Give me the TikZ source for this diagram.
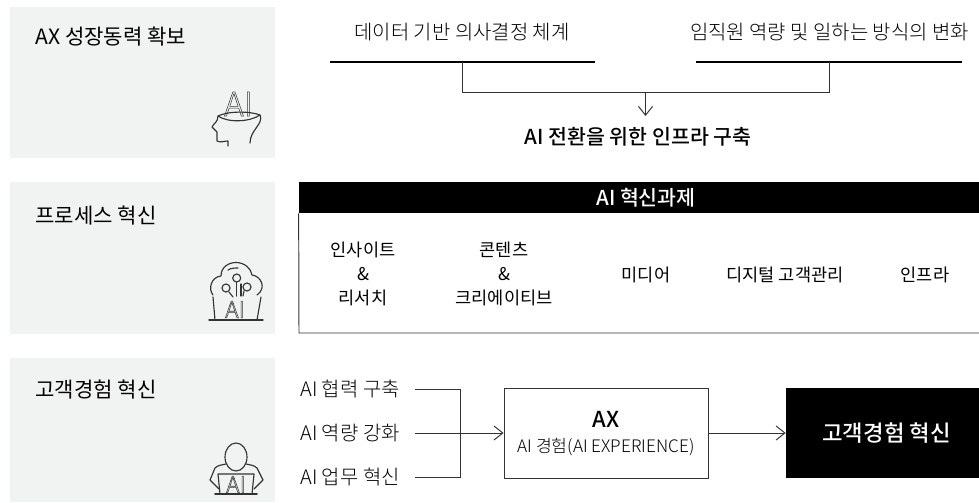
\documentclass[tikz,border=0pt]{standalone}
\usepackage{fontspec}
\setmainfont[BoldFont={Noto Sans CJK KR Medium}]{Noto Sans CJK KR Light}
\newfontfamily\regfont{Noto Sans CJK KR}
\usetikzlibrary{arrows.meta}
\definecolor{panelgray}{HTML}{F1F3F3}
\definecolor{inkgray}{HTML}{333333}
\newcommand{\hollow}[1]{\special{pdf:code q 1 Tr 0.3 w}#1\special{pdf:code Q}}
\tikzset{
  label/.style={anchor=west, inner sep=0pt, text=black, font=\regfont\fontsize{12}{14}\selectfont},
  item/.style={inner sep=0pt, align=center, text=black, font=\fontsize{11.35}{14}\selectfont},
  taskitem/.style={inner sep=0pt, align=center, text=black, font=\regfont\fontsize{10}{13.7}\selectfont},
  joinline/.style={draw=inkgray, line width=0.55pt},
  iconline/.style={draw=inkgray, line width=0.65pt, line cap=round, line join=round},
  icontext/.style={inner sep=0pt, text=inkgray},
  rulebar/.style={line width=1.5pt, black}
}
\begin{document}
\begin{tikzpicture}[x=0.02cm, y=-0.02cm, >={Straight Barb[length=5pt, width=8pt]}]
\useasboundingbox (0,0) rectangle (979,503);

% panels
\fill[panelgray] (10, 7) rectangle (275, 158);
\fill[panelgray] (10, 182) rectangle (275, 334);
\fill[panelgray] (10, 358) rectangle (275, 502);
\node[label] (growth) at (35, 37) {AX 성장동력 확보};
\node[label] (process) at (35, 216) {프로세스 혁신};
\node[label] (custexp) at (35, 390) {고객경험 혁신};

% head icon
\draw[iconline] (218,116) .. controls (228,111) and (250,111) .. (260,115) .. controls (250,122) and (228,123) .. (218,116);
\draw[iconline] (218,116) .. controls (218,122) and (214,123) .. (212,127) -- (217,132) -- (217,141) .. controls (220,143) and (224,141) .. (228,141) -- (228,146);
\draw[iconline] (260,115) .. controls (264,124) and (250,130) .. (250,143);
\node[icontext, font=\fontsize{19}{19}\selectfont] (headai) at (238.5, 104) {\hollow{AI}};

% cloud icon
\draw[iconline] (213,295) .. controls (208,289) and (211,277) .. (221,276) .. controls (221,266) and (230,262.5) .. (236,262.5) .. controls (244,262.5) and (251,268) .. (252,275) .. controls (261,276) and (267,288) .. (257,295);
\draw[iconline] (228,270) .. controls (231,268) and (235,268) .. (238,268);
\draw[iconline] (213,297) -- (215,320);
\draw[iconline] (261,297) -- (257,320);
\draw[iconline, line width=0.8pt] (209,320) -- (263,320);
\draw[iconline] (236.7,278) circle (4);
\draw[iconline] (226,288) circle (4);
\draw[iconline] (247,287) circle (4);
\draw[iconline] (236.7,282) -- (236.7,296);
\draw[iconline] (241,284) -- (241,296);
\draw[iconline] (229,292) -- (233,297);
\draw[iconline] (244,291) -- (243,296);
\node[icontext, font=\fontsize{13}{13}\selectfont] (cloudai) at (235, 309.5) {\hollow{AI}};

% person icon
\draw[iconline] (236,457) ellipse (11 and 14);
\draw[iconline] (226,464) .. controls (222,465) and (218,465) .. (215,468) -- (210,480) -- (219,489);
\draw[iconline] (246,464) .. controls (250,465) and (254,465) .. (257,468) -- (263,480) -- (254,489);
\draw[iconline] (220,494) -- (218,474) -- (254,474) -- (252,494);
\draw[iconline, line width=1pt] (215,494) -- (257,494);
\node[icontext, font=\fontsize{13}{13}\selectfont] (personai) at (236, 484.5) {\hollow{AI}};

% top row
\node[item] (datadec) at (462, 32) {데이터 기반 의사결정 체계};
\node[item] (staff) at (829.5, 32) {임직원 역량 및 일하는 방식의 변화};
\coordinate (dataL) at (330, 62);
\coordinate (dataR) at (595, 62);
\coordinate (staffL) at (696, 62);
\coordinate (staffR) at (962, 62);
\draw[rulebar] (dataL) -- (dataR);
\draw[rulebar] (staffL) -- (staffR);
\coordinate (dataC) at (462.5, 62);
\coordinate (staffC) at (829, 62);
\coordinate (joinC) at (645.5, 92);
\node[inner sep=0pt, font=\bfseries\fontsize{11.7}{14}\selectfont] (infra) at (638, 137) {AI 전환을 위한 인프라 구축};
\coordinate (infraTop) at (645.5, 116);
\draw[joinline] (dataC) -- (dataC |- joinC) -- (staffC |- joinC) -- (staffC);
\draw[joinline, ->] (joinC) -- (infraTop);

% middle row
\node[fill=black, text=white, inner sep=0pt, minimum width=0.02cm*694, minimum height=0.02cm*31, font=\bfseries\fontsize{11.7}{14}\selectfont] (tasks) at (646, 197.5) {AI 혁신과제};
\draw[joinline] (tasks.south west) -- (299, 333) -- (979, 333);
\node[taskitem] (research) at (363, 274) {인사이트\\\&\\리서치};
\node[taskitem] (content) at (504, 274) {콘텐츠\\\&\\크리에이티브};
\node[taskitem] (media) at (646, 275) {미디어};
\node[taskitem] (digital) at (785, 275) {디지털 고객관리};
\node[taskitem] (infratask) at (925, 275) {인프라};

% bottom row
\node[item, anchor=west] (collab) at (300, 389) {AI 협력 구축};
\node[item, anchor=west] (skill) at (300, 433) {AI 역량 강화};
\node[item, anchor=west] (work) at (300, 477) {AI 업무 혁신};
\coordinate (collabEnd) at (415, 389);
\coordinate (skillEnd) at (415, 433);
\coordinate (workEnd) at (415, 477);
\coordinate (merge) at (460, 433);
\node[draw=inkgray, line width=0.55pt, inner sep=0pt, minimum width=0.02cm*204, minimum height=0.02cm*90] (axbox) at (606, 433) {};
\node[inner sep=0pt, font=\bfseries\fontsize{12.5}{14}\selectfont] (axlabel) at (606, 419) {AX};
\node[inner sep=0pt, font=\fontsize{9.8}{12}\selectfont] (axsub) at (606, 447) {AI 경험(AI EXPERIENCE)};
\node[fill=black, text=white, inner sep=0pt, minimum width=0.02cm*201, minimum height=0.02cm*90, font=\bfseries\fontsize{12.7}{14}\selectfont] (result) at (886.5, 433) {고객경험 혁신};
\draw[joinline] (collabEnd) -- (collabEnd -| merge) -- (workEnd -| merge) -- (workEnd);
\draw[joinline, ->] (skillEnd) -- (axbox.west);
\draw[joinline, ->] (axbox.east) -- (result.west);
\end{tikzpicture}
\end{document}
